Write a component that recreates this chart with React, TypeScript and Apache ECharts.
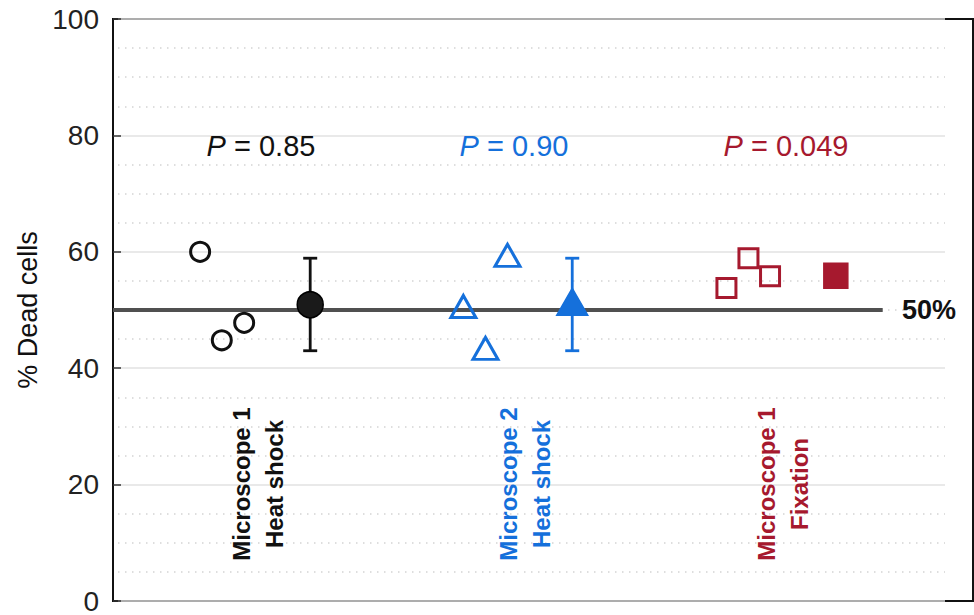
import React, { useEffect, useRef } from "react";
import * as echarts from "echarts";

// ---- data ----
const yTicks = [0, 20, 40, 60, 80, 100];
const refValue = 50;
const refLineX = [0, 8.95];

const g1Points = [
  [1.013, 60.0],
  [1.265, 44.8],
  [1.525, 47.8],
];
const g1Mean = [[2.293, 50.9]];
const g1Err = [[2.293, 43.0, 58.9]];

const g2Points = [
  [4.074, 50.6],
  [4.331, 43.4],
  [4.587, 59.4],
];
const g2Mean = [[5.34, 51.4]];
const g2Err = [[5.34, 43.0, 58.9]];

const g3Points = [
  [7.133, 53.8],
  [7.389, 58.9],
  [7.64, 55.8],
];
const g3Mean = [[8.405, 55.9]];

const pLabels = ["0.85", "0.90", "0.049"];
const groupLabels = ["Microscope 1\nHeat shock", "Microscope 2\nHeat shock", "Microscope 1\nFixation"];

const BLACK = "#111111";
const BLUE = "#1570db";
const RED = "#a6192e";
const FONT = "'Liberation Sans', Arial, sans-serif";

export default function App() {
  const ref = useRef<HTMLDivElement>(null);

  useEffect(() => {
    document.body.style.margin = "0";
    if (!ref.current) return;
    const chart = echarts.init(ref.current, undefined, { renderer: "svg" });

    const errSeries = (data: number[][], color: string) => ({
      type: "custom",
      xAxisIndex: 1,
      yAxisIndex: 1,
      z: 3,
      data,
      renderItem: (_p: any, api: any) => {
        const x = api.value(0);
        const lo = api.coord([x, api.value(1)]);
        const hi = api.coord([x, api.value(2)]);
        const w = 7;
        const style = { stroke: color, lineWidth: 2.8 };
        return {
          type: "group",
          children: [
            { type: "line", shape: { x1: lo[0], y1: lo[1], x2: hi[0], y2: hi[1] }, style },
            { type: "line", shape: { x1: hi[0] - w, y1: hi[1], x2: hi[0] + w, y2: hi[1] }, style },
            { type: "line", shape: { x1: lo[0] - w, y1: lo[1], x2: lo[0] + w, y2: lo[1] }, style },
          ],
        };
      },
    });

    const hollow = (data: number[][], symbol: string, size: any, color: string) => ({
      type: "scatter",
      xAxisIndex: 1,
      yAxisIndex: 1,
      z: 4,
      symbol,
      symbolSize: size,
      data,
      itemStyle: { color: "rgba(0,0,0,0)", borderColor: color, borderWidth: 3, opacity: 1 },
    });

    const filled = (data: number[][], symbol: string, size: any, color: string, border: string) => ({
      type: "scatter",
      xAxisIndex: 1,
      yAxisIndex: 1,
      z: 5,
      symbol,
      symbolSize: size,
      data,
      itemStyle: { color, borderColor: border, borderWidth: 1.5, opacity: 1 },
    });

    const pText = (val: string, color: string, cx: number) => ({
      type: "text",
      x: cx,
      y: 146,
      z: 10,
      style: {
        text: "{i|P} = " + val,
        align: "center",
        verticalAlign: "middle",
        fill: color,
        fontSize: 29,
        fontFamily: FONT,
        rich: { i: { fontStyle: "italic", fontSize: 29, fill: color, fontFamily: FONT } },
      },
    });

    const gText = (txt: string, color: string, cx: number) => ({
      type: "text",
      x: cx,
      y: 484,
      rotation: Math.PI / 2,
      z: 10,
      style: {
        text: txt,
        align: "center",
        verticalAlign: "middle",
        fill: color,
        fontSize: 24,
        fontWeight: "bold",
        fontFamily: FONT,
        lineHeight: 33,
      },
    });

    chart.setOption({
      animation: false,
      backgroundColor: "#ffffff",
      grid: [
        { left: 118, right: 29, top: 19, bottom: 14, show: false },
        { left: 113, right: 1, top: 19, bottom: 14, show: true, borderColor: BLACK, borderWidth: 2, backgroundColor: "transparent" },
      ],
      xAxis: [
        { type: "value", gridIndex: 0, min: 0, max: 10, show: false },
        { type: "value", gridIndex: 1, min: 0, max: 10, show: false },
      ],
      yAxis: [
        {
          type: "value",
          gridIndex: 0,
          min: yTicks[0],
          max: yTicks[yTicks.length - 1],
          interval: 20,
          axisLine: { show: false },
          axisTick: { show: false },
          axisLabel: { show: false },
          splitLine: { show: true, lineStyle: { color: "#e2e2e2", width: 1.5 } },
          minorTick: { show: false, splitNumber: 4 },
          minorSplitLine: { show: true, lineStyle: { color: "#d4d4d4", width: 1.5, type: [1.5, 5.5] } },
        },
        {
          type: "value",
          gridIndex: 1,
          min: yTicks[0],
          max: yTicks[yTicks.length - 1],
          interval: 20,
          name: "% Dead cells",
          nameLocation: "middle",
          nameGap: 72,
          nameRotate: 90,
          nameTextStyle: { fontSize: 27, color: "#111", fontFamily: FONT },
          axisLine: { show: true, lineStyle: { color: BLACK, width: 2 } },
          axisTick: { show: true, inside: true, length: 8, lineStyle: { color: "#333", width: 1.5 } },
          axisLabel: { fontSize: 28, color: "#222", fontFamily: FONT, margin: 14 },
          splitLine: { show: false },
        },
      ],
      series: [
        {
          type: "line",
          xAxisIndex: 1,
          yAxisIndex: 1,
          z: 2,
          symbol: "none",
          data: refLineX.map((x) => [x, refValue]),
          lineStyle: { color: "#505050", width: 3.8 },
        },
        errSeries(g1Err, BLACK),
        errSeries(g2Err, BLUE),
        hollow(g1Points, "circle", 19, BLACK),
        hollow(g2Points, "triangle", [25, 22], BLUE),
        hollow(g3Points, "rect", 19, RED),
        filled(g1Mean, "circle", 26, "#1a1a1a", "#000"),
        filled(g2Mean, "triangle", [31, 27], BLUE, BLUE),
        filled(g3Mean, "rect", [24, 25], RED, RED),
      ],
      graphic: [
        pText(pLabels[0], BLACK, 261),
        pText(pLabels[1], BLUE, 514),
        pText(pLabels[2], RED, 786),
        gText(groupLabels[0], BLACK, 258),
        gText(groupLabels[1], BLUE, 525),
        gText(groupLabels[2], RED, 783),
        {
          type: "text",
          x: 929,
          y: 310,
          z: 10,
          style: {
            text: "50%",
            align: "center",
            verticalAlign: "middle",
            fill: "#111",
            fontSize: 27,
            fontWeight: "bold",
            fontFamily: FONT,
          },
        },
      ],
    });

    return () => chart.dispose();
  }, []);

  return <div ref={ref} style={{ width: 974, height: 615 }} />;
}
